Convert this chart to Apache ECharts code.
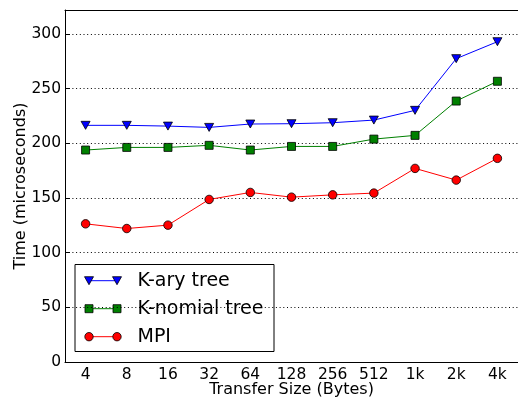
<!DOCTYPE html>
<html>
<head>
<meta charset="utf-8">
<script src="https://cdn.jsdelivr.net/npm/echarts@6/dist/echarts.min.js"></script>
<style>
  html, body { margin: 0; padding: 0; background: #fff; }
  #chart { width: 518px; height: 399px; }
</style>
</head>
<body>
<div id="chart"></div>
<script>
// Transfer sizes on the x axis
const sizes = ['4', '8', '16', '32', '64', '128', '256', '512', '1k', '2k', '4k'];

// Broadcast time in microseconds for each algorithm
const karyTree    = [216.5, 216.5, 215.8, 214.6, 217.7, 218.0, 218.9, 221.3, 230.2, 277.5, 293.0];
const knomialTree = [193.9, 196.3, 196.3, 198.2, 193.9, 197.2, 197.2, 203.9, 207.3, 238.7, 256.8];
const mpi         = [126.4, 122.1, 125.2, 148.7, 155.1, 150.8, 152.9, 154.5, 177.1, 166.4, 186.3];

const FONT = 'DejaVu Sans';

const seriesDefs = [
  { name: 'K-ary tree',    data: karyTree,    color: '#0000ff', kind: 'tri' },
  { name: 'K-nomial tree', data: knomialTree, color: '#008000', kind: 'sq' },
  { name: 'MPI',           data: mpi,         color: '#ff0000', kind: 'circ' }
];

const symbolFor = {
  tri:  { symbol: 'triangle', size: [9, 8], rotate: 180 },
  sq:   { symbol: 'rect', size: 8, rotate: 0 },
  circ: { symbol: 'circle', size: 8.5, rotate: 0 }
};

const chart = echarts.init(document.getElementById('chart'), null, { renderer: 'canvas' });

// Legend box drawn in the lower-left corner, with two markers per entry
function legendGraphic() {
  const box = { x: 75, y: 264.5, w: 199, h: 87 };
  const children = [{
    type: 'rect',
    shape: { x: box.x, y: box.y, width: box.w, height: box.h },
    style: { fill: '#fff', stroke: '#000', lineWidth: 1 }
  }];
  seriesDefs.forEach((s, i) => {
    const cy = 280.7 + i * 28;
    const xs = [89, 117];
    children.push({
      type: 'line',
      shape: { x1: xs[0], y1: cy, x2: xs[1], y2: cy },
      style: { stroke: s.color, lineWidth: 1 }
    });
    xs.forEach(cx => {
      const st = { fill: s.color, stroke: '#000', lineWidth: 0.8 };
      if (s.kind === 'tri') {
        children.push({ type: 'polygon', shape: { points: [[cx - 4.5, cy - 4], [cx + 4.5, cy - 4], [cx, cy + 4]] }, style: st });
      } else if (s.kind === 'sq') {
        children.push({ type: 'rect', shape: { x: cx - 4, y: cy - 4, width: 8, height: 8 }, style: st });
      } else {
        children.push({ type: 'circle', shape: { cx: cx, cy: cy, r: 4.2 }, style: st });
      }
    });
    children.push({
      type: 'text',
      x: 137.5, y: cy,
      style: { text: s.name, font: '19px "' + FONT + '"', fill: '#000', verticalAlign: 'middle', align: 'left' }
    });
  });
  return [{ type: 'group', z: 100, children: children }];
}

const option = {
  backgroundColor: '#fff',
  animation: false,
  textStyle: { fontFamily: FONT },
  grid: { left: 65, top: 10, width: 453, height: 352, containLabel: false, outerBoundsMode: 'none' },
  xAxis: [
    {
      type: 'category',
      data: sizes,
      position: 'bottom',
      boundaryGap: true,
      name: 'Transfer Size (Bytes)',
      nameLocation: 'middle',
      nameGap: 20,
      nameMoveOverlap: false,
      nameTextStyle: { fontSize: 16, color: '#000', fontFamily: FONT },
      axisLine: { lineStyle: { color: '#000', width: 1 } },
      axisTick: { inside: true, alignWithLabel: true, length: 5, lineStyle: { color: '#000' } },
      axisLabel: { fontSize: 15.5, color: '#000', margin: 5, fontFamily: FONT },
      splitLine: { show: false }
    },
    {
      type: 'category',
      data: sizes,
      position: 'top',
      boundaryGap: true,
      axisLine: { lineStyle: { color: '#000', width: 1 } },
      axisTick: { inside: true, alignWithLabel: true, length: 5, lineStyle: { color: '#000' } },
      axisLabel: { show: false },
      splitLine: { show: false }
    }
  ],
  yAxis: {
    type: 'value',
    min: 0,
    max: 322,
    interval: 50,
    name: 'Time (microseconds)',
    nameLocation: 'middle',
    nameGap: 36,
    nameMoveOverlap: false,
    nameTextStyle: { fontSize: 16, color: '#000', fontFamily: FONT },
    axisLine: { show: true, lineStyle: { color: '#000', width: 1 } },
    axisTick: { show: true, inside: true, length: 5, lineStyle: { color: '#000' } },
    axisLabel: { fontSize: 15.5, color: '#000', margin: 4, showMaxLabel: false, fontFamily: FONT },
    splitLine: { show: true, lineStyle: { color: '#000', width: 1, type: [1, 2.7] } }
  },
  series: seriesDefs.map(s => ({
    name: s.name,
    type: 'line',
    data: s.data,
    xAxisIndex: 0,
    symbol: symbolFor[s.kind].symbol,
    symbolSize: symbolFor[s.kind].size,
    symbolRotate: symbolFor[s.kind].rotate,
    showAllSymbol: true,
    lineStyle: { color: s.color, width: 1 },
    itemStyle: { color: s.color, borderColor: '#000', borderWidth: 0.8 },
    z: 3
  })),
  graphic: legendGraphic()
};

chart.setOption(option);
</script>
</body>
</html>
